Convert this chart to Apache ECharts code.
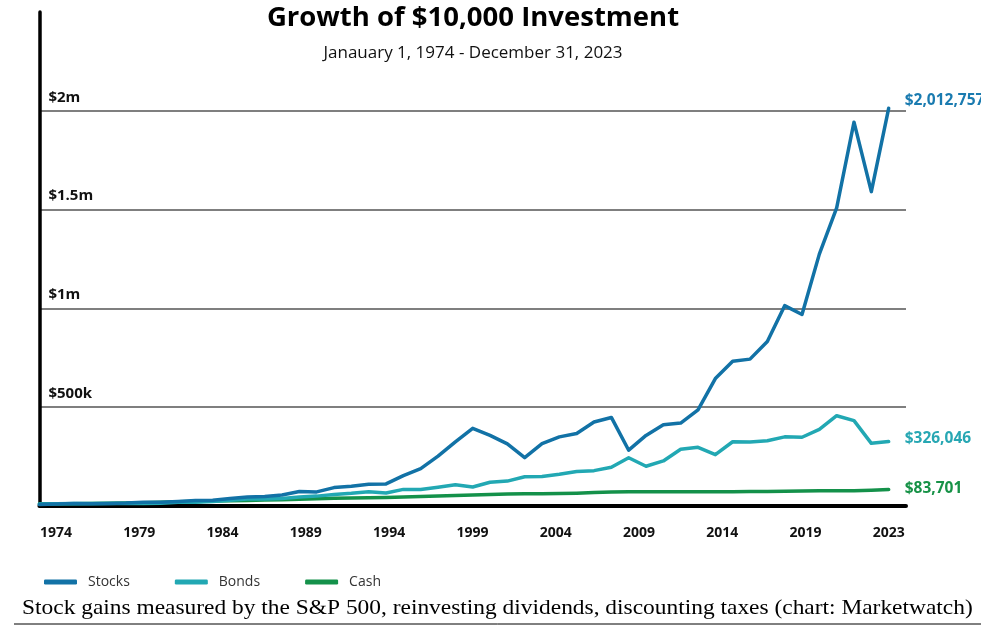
<!DOCTYPE html>
<html>
<head>
<meta charset="utf-8">
<script src="https://cdn.jsdelivr.net/npm/echarts@6/dist/echarts.min.js"></script>
<style>
html,body{margin:0;padding:0;background:#fff;}
#chart{width:981px;height:639px;}
</style>
</head>
<body>
<div id="chart"></div>
<script>
// ---- data ----
const years = [];
for (let y = 1974; y <= 2023; y++) years.push(y);

const stocks = [7350, 10080, 12480, 11590, 12350, 14620, 19360, 18410, 22350, 27380,
  29110, 38480, 45600, 47970, 56020, 73670, 71390, 93160, 100240, 110370,
  111800, 153840, 189220, 252420, 324610, 392780, 357040, 314550, 245040, 315360,
  349730, 366870, 424840, 448200, 282370, 357200, 411130, 419770, 486930, 644700,
  733020, 743280, 832470, 1013950, 969340, 1274680, 1509220, 1942370, 1590800, 2012757];

const bonds = [10200, 10800, 12600, 12800, 12700, 12800, 12400, 13500, 19000, 19500,
  22500, 29000, 36000, 35000, 38000, 46000, 50000, 58000, 64000, 72000,
  66000, 84000, 83000, 95000, 108000, 96000, 120000, 126000, 148000, 149000,
  161000, 175000, 179000, 196000, 244000, 201000, 228000, 287000, 297000, 260000,
  325000, 324000, 330000, 350000, 348000, 388000, 457000, 432000, 317000, 326046];

const cash = [10780, 11430, 12000, 12610, 13490, 14830, 16490, 18850, 20930, 22700,
  24880, 26740, 28360, 29980, 31910, 34500, 37100, 39190, 40520, 41730,
  43390, 45790, 48090, 50520, 52910, 55290, 58480, 60620, 61630, 62270,
  63030, 64930, 67970, 71120, 72250, 72350, 72450, 72470, 72510, 72560,
  72590, 72750, 73120, 74130, 75890, 77070, 77140, 77190, 79500, 83701];

const tickLabels = ['1974','1979','1984','1989','1994','1999','2004','2009','2014','2019','2023'];
const titleText = 'Growth of $10,000 Investment';
const subtitleText = 'Janauary 1, 1974 - December 31, 2023';
const footnote = 'Stock gains measured by the S&P 500, reinvesting dividends, discounting taxes (chart: Marketwatch)';

// ---- chart ----
const C_STOCK = '#1272a6', C_BOND = '#22a8b3', C_CASH = '#14914a';
const pairs = arr => arr.map((v, i) => [years[i], v]);
const money = v => '$' + Math.round(v).toString().replace(/\B(?=(\d{3})+(?!\d))/g, ',');
const FONT = '"Open Sans", "Noto Sans", sans-serif';

function lineSeries(name, arr, color, labelColor, offY) {
  return {
    name, type: 'line', data: pairs(arr), showSymbol: false, smooth: false,
    xAxisIndex: 0, yAxisIndex: 0,
    lineStyle: { color, width: 3.5, cap: 'round', join: 'round' },
    itemStyle: { color },
    emphasis: { disabled: true },
    endLabel: {
      show: true, distance: 16, offset: [0, offY],
      formatter: p => money(p.value[1]),
      color: labelColor, fontFamily: FONT, fontWeight: 'bold', fontSize: 15.5
    }
  };
}

const chart = echarts.init(document.getElementById('chart'), null, { renderer: 'canvas' });
chart.setOption({
  animation: false,
  backgroundColor: '#fff',
  title: [
    { text: titleText, left: 468, top: -1, textAlign: 'center',
      textStyle: { fontFamily: FONT, fontWeight: 'bold', fontSize: 27.5, color: '#000' } },
    { text: subtitleText, left: 468, top: 40, textAlign: 'center',
      textStyle: { fontFamily: FONT, fontWeight: 'normal', fontSize: 17, color: '#111' } }
  ],
  legend: {
    data: ['Stocks', 'Bonds', 'Cash'], left: 39, top: 570,
    icon: 'roundRect', itemWidth: 33, itemHeight: 5, itemGap: 45,
    textStyle: { fontFamily: FONT, fontSize: 14, color: '#333', padding: [0, 0, 0, 6] }
  },
  grid: [
    { left: 39.4, right: 75, top: 12, height: 494, containLabel: false },
    { left: 14.4, width: 916, top: 12, height: 494, containLabel: false }
  ],
  xAxis: [
    { type: 'value', gridIndex: 0, min: 1974, max: 2024,
      axisLine: { show: true, onZero: false, lineStyle: { color: '#000', width: 4 } },
      axisTick: { show: false }, axisLabel: { show: false }, splitLine: { show: false } },
    { type: 'category', gridIndex: 1, data: tickLabels, boundaryGap: true, position: 'bottom',
      axisLine: { show: false }, axisTick: { show: false }, splitLine: { show: false },
      axisLabel: { interval: 0, margin: 20, fontFamily: FONT, fontWeight: 'bold', fontSize: 14, color: '#111' } }
  ],
  yAxis: [
    { type: 'value', gridIndex: 0, min: 0, max: 2500000, interval: 500000,
      axisLine: { show: true, lineStyle: { color: '#000', width: 3.5 } },
      axisTick: { show: false },
      splitLine: { show: true, lineStyle: { color: ['#555', '#555', '#555', '#555', '#555', 'rgba(0,0,0,0)'], width: 1.5 } },
      axisLabel: {
        inside: true, margin: 9, align: 'left', verticalAlign: 'bottom', padding: [0, 0, 6, 0],
        fontFamily: FONT, fontWeight: 'bold', fontSize: 15, color: '#111',
        formatter: v => (v === 0 || v > 2000000) ? '' : (v >= 1000000 ? '$' + (v / 1000000) + 'm' : '$' + (v / 1000) + 'k')
      } },
    { type: 'value', gridIndex: 1, show: false, min: 0, max: 1 }
  ],
  series: [
    lineSeries('Cash', cash, C_CASH, '#179247', -1),
    lineSeries('Bonds', bonds, C_BOND, '#27a7b3', -3),
    lineSeries('Stocks', stocks, C_STOCK, '#1a7bb0', -8)
  ],
  graphic: [
    { type: 'text', left: 22, top: 598, scaleX: 1.115,
      style: { text: footnote, font: '21px "Liberation Serif", "Times New Roman", serif', fill: '#000' } },
    { type: 'line', shape: { x1: 14, y1: 624, x2: 981, y2: 624 }, style: { stroke: '#000', lineWidth: 1 } }
  ]
});
</script>
</body>
</html>
